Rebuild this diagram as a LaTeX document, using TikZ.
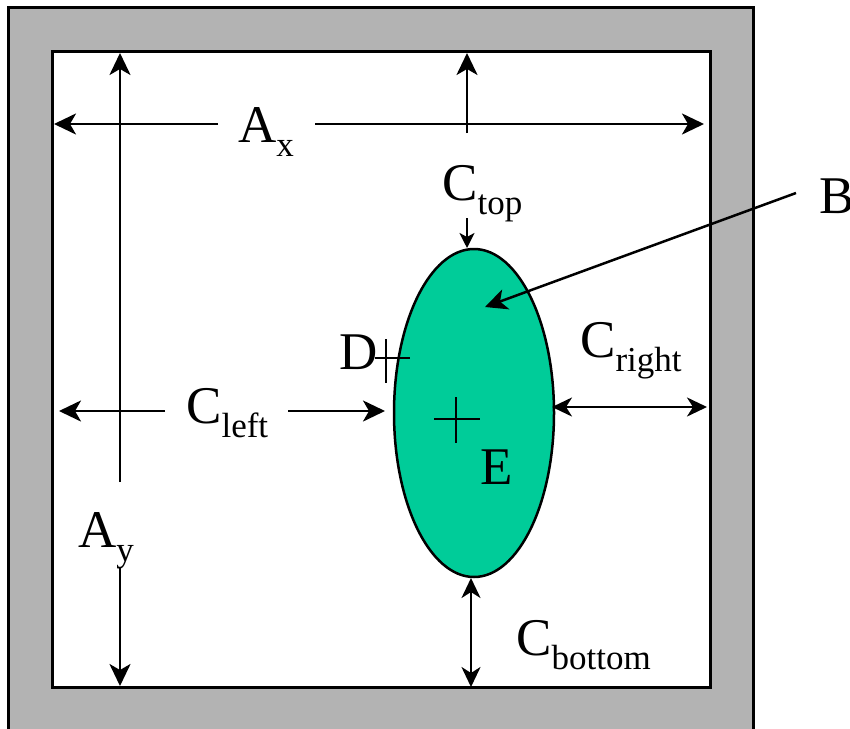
\documentclass[tikz,border=0pt]{standalone}
\usepackage{fontspec}
\setmainfont{Liberation Serif}
\usetikzlibrary{arrows.meta,shapes.geometric}
\definecolor{framegray}{RGB}{179,179,179}
\definecolor{blobgreen}{RGB}{0,204,153}
\newcommand{\biglab}[2]{{\fontsize{53}{60}\selectfont #1\raisebox{-14pt}{\fontsize{35}{40}\selectfont #2}}}
\tikzset{
  lab/.style={anchor=base west, inner sep=0pt, font=\fontsize{53}{60}\selectfont},
  bigarrow/.style={line width=2.5pt, -{Stealth[length=22pt,width=21pt,inset=6pt]}},
  dblarrow/.style={line width=2.5pt, {Stealth[length=20pt,width=19pt,inset=6pt]}-{Stealth[length=20pt,width=19pt,inset=6pt]}},
  smallarrow/.style={line width=2.5pt, -{Stealth[length=15pt,width=15pt,inset=4pt]}},
  plainline/.style={line width=2.5pt},
}
\begin{document}
\begin{tikzpicture}[x=1pt,y=-1pt]
\useasboundingbox (0,0) rectangle (850,728);
% frame
\draw[line width=3pt, fill=framegray] (8,7) rectangle (753,745);
\draw[line width=3pt, fill=white] (52,51) rectangle (710,687);
% ellipse
\node[ellipse, draw, line width=2.5pt, fill=blobgreen, minimum width=160pt, minimum height=328pt, inner sep=0pt] (ell) at (474,413) {};
% coordinates
\coordinate (ayTop) at (120,53);
\coordinate (ayUp) at (120,482);
\coordinate (ayDn) at (120,567);
\coordinate (ayBot) at (120,686);
\coordinate (axL) at (54,124);
\coordinate (axLs) at (218,124);
\coordinate (axRs) at (315,124);
\coordinate (axR) at (704,124);
\coordinate (vTop) at (467,53);
\coordinate (vBot) at (467,133);
\coordinate (ctS) at (467,218);
\coordinate (ctE) at (467,248);
\coordinate (bS) at (796,193);
\coordinate (bE) at (485,307);
\coordinate (clL) at (59,411);
\coordinate (clLs) at (165,411);
\coordinate (clRs) at (288,411);
\coordinate (clR) at (385,411);
\coordinate (crL) at (552,407);
\coordinate (crR) at (707,407);
\coordinate (cbT) at (471,578);
\coordinate (cbB) at (471,687);
% labels
\node[lab] (Ax) at (238,142) {\biglab{A}{x}};
\node[lab] (Ctop) at (442,200) {\biglab{C}{top}};
\node[lab] (B) at (819,213) {B};
\node[lab] (D) at (339,369) {D};
\node[lab] (Cright) at (580,357) {\biglab{C}{right}};
\node[lab] (Cleft) at (186,423) {\biglab{C}{left}};
\node[lab] (E) at (480,484) {E};
\node[lab] (Ay) at (78,547) {\biglab{A}{y}};
\node[lab] (Cbottom) at (516,655) {\biglab{C}{bottom}};
% Ay
\draw[bigarrow] (ayUp) -- (ayTop);
\draw[bigarrow] (ayDn) -- (ayBot);
% Ax
\draw[bigarrow] (axLs) -- (axL);
\draw[bigarrow] (axRs) -- (axR);
% vertical top
\draw[bigarrow] (vBot) -- (vTop);
% C top
\draw[smallarrow] (ctS) -- (ctE);
% B
\draw[bigarrow] (bS) -- (bE);
% C left
\draw[bigarrow] (clLs) -- (clL);
\draw[bigarrow] (clRs) -- (clR);
% C right
\draw[dblarrow] (crL) -- (crR);
% C bottom
\draw[dblarrow] (cbT) -- (cbB);
% crosses
\draw[plainline] (375,358) -- (410,358);
\draw[plainline] (386,339) -- (386,383);
\draw[plainline] (434,419) -- (480,419);
\draw[plainline] (456,397) -- (456,443);
\end{tikzpicture}
\end{document}
